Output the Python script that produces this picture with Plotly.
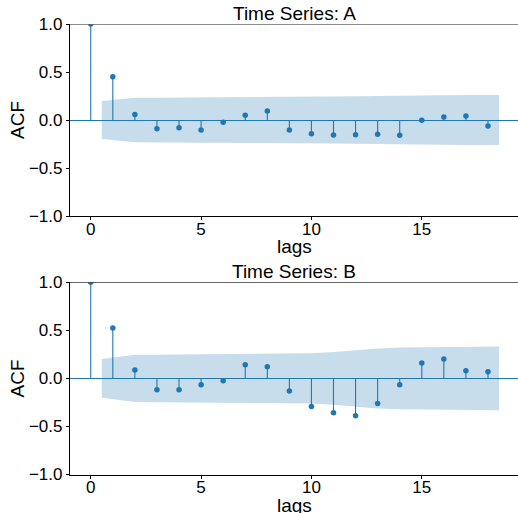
import plotly.graph_objects as go

lags = list(range(19))
acf_a = [1.0, 0.451, 0.056, -0.090, -0.080, -0.104, -0.024, 0.049, 0.094, -0.104,
         -0.142, -0.156, -0.153, -0.149, -0.160, -0.003, 0.031, 0.042, -0.063]
acf_b = [1.0, 0.524, 0.087, -0.118, -0.118, -0.066, -0.024, 0.142, 0.122, -0.132,
         -0.292, -0.358, -0.389, -0.260, -0.066, 0.160, 0.201, 0.080, 0.069]
# confidence band half-widths for lags 1..18
band_a = [0.198, 0.233, 0.233, 0.234, 0.236, 0.237, 0.237, 0.238, 0.239, 0.241,
          0.244, 0.248, 0.251, 0.255, 0.259, 0.259, 0.260, 0.261]
band_b = [0.201, 0.246, 0.247, 0.249, 0.251, 0.252, 0.252, 0.255, 0.258, 0.261,
          0.274, 0.292, 0.312, 0.321, 0.322, 0.325, 0.330, 0.332]
titles = ["Time Series: A", "Time Series: B"]

BLUE = "#1f77b4"
FONT = "Liberation Sans, Arial, sans-serif"
W, H = 518, 513
L = 70
PW = W - L

fig = go.Figure()

panels = [
    (acf_a, band_a, "x", "y", 24, 216),
    (acf_b, band_b, "x2", "y2", 282.3, 474.5),
]

for idx, (acf, band, xa, ya, top, bot) in enumerate(panels):
    bx = [l for l in lags[1:]]
    bx[0] = bx[0] - 0.5
    bx[-1] = bx[-1] + 0.5
    fig.add_trace(go.Scatter(
        x=bx + bx[::-1], y=band + [-b for b in band[::-1]],
        fill="toself", fillcolor="rgba(31,119,180,0.25)", line=dict(width=0),
        mode="lines", xaxis=xa, yaxis=ya, hoverinfo="skip", showlegend=False))
    sx, sy = [], []
    for l, v in zip(lags, acf):
        sx += [l, l, None]
        sy += [0, v, None]
    fig.add_trace(go.Scatter(x=sx, y=sy, mode="lines",
                             line=dict(color=BLUE, width=1.1),
                             xaxis=xa, yaxis=ya, showlegend=False))
    fig.add_trace(go.Scatter(x=lags, y=acf, mode="markers",
                             marker=dict(color=BLUE, size=5.5),
                             xaxis=xa, yaxis=ya, showlegend=False))
    d0 = 1 - bot / H
    d1 = 1 - top / H
    axis_common = dict(showgrid=False, showline=True, linecolor="black", linewidth=1.2,
                       ticks="outside", ticklen=3, tickcolor="black", automargin=False,
                       tickfont=dict(family=FONT, size=17, color="black"))
    xkey = "xaxis" if xa == "x" else "xaxis2"
    ykey = "yaxis" if ya == "y" else "yaxis2"
    fig.layout[xkey] = dict(axis_common, range=[-0.94, 19.36], domain=[0, 1],
                            anchor=ya, tickvals=[0, 5, 10, 15], zeroline=False,
                            ticklabelstandoff=-6)
    fig.layout[ykey] = dict(axis_common, range=[-1, 1], domain=[d0, d1], anchor=xa,
                            tickvals=[-1, -0.5, 0, 0.5, 1],
                            ticktext=["\u22121.0", "\u22120.5", "0.0", "0.5", "1.0"],
                            zeroline=True, zerolinecolor=BLUE, zerolinewidth=1.3)
    # top spine
    fig.add_shape(type="line", xref=f"{xa} domain", yref=ya, x0=0, x1=1, y0=1, y1=1,
                  line=dict(color="#666666" if idx == 0 else "#333333", width=1.5),
                  layer="above")
    fig.add_annotation(text=titles[idx], xref=f"{xa} domain", yref="paper",
                       x=0.5, y=1 - (top - 11) / H, yanchor="middle", showarrow=False,
                       font=dict(family=FONT, size=19, color="black"))
    fig.add_annotation(text="lags", xref=f"{xa} domain", yref="paper",
                       x=0.5, y=1 - (bot + 31) / H, yanchor="middle", showarrow=False,
                       font=dict(family=FONT, size=19, color="black"))
    fig.add_annotation(text="ACF", xref="paper", yref="paper",
                       x=(17 - L) / PW, xanchor="center", y=1 - (top + bot) / 2 / H,
                       yanchor="middle", textangle=-90, showarrow=False,
                       font=dict(family=FONT, size=19, color="black"))

fig.update_layout(width=W, height=H, margin=dict(l=L, r=0, t=0, b=0, autoexpand=False),
                  plot_bgcolor="white", paper_bgcolor="white", showlegend=False)

fig.write_html("out.html", config={"displayModeBar": False},
               post_script="document.body.style.margin='0px';document.body.style.padding='0px';")
